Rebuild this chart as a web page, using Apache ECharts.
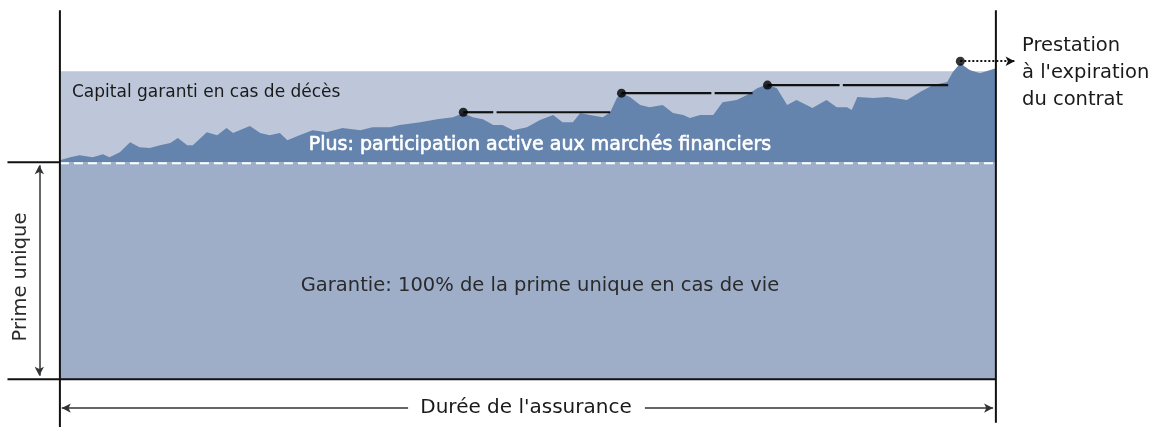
<!DOCTYPE html>
<html>
<head>
<meta charset="utf-8">
<script src="https://cdn.jsdelivr.net/npm/echarts@6/dist/echarts.min.js"></script>
<style>html,body{margin:0;padding:0;background:#fff}#c{width:1155px;height:427px}</style>
</head>
<body>
<div id="c"></div>
<script>
// ---- data (x: % of insurance duration, y: % of single premium) ----
const PRIME = 100;          // single premium level (guarantee)
const BAND_TOP = 141.9;     // guaranteed death capital level
const GROWTH_X = [0,1.1,2.1,3.5,4.6,5.3,6.4,7.5,8.5,9.6,10.7,11.8,12.6,13.6,14.2,15.7,16.8,17.8,18.5,19.2,20.3,21.4,22.4,23.5,24.3,25.6,27.0,28.5,30.2,32.1,33.4,34.2,35.3,36.3,38.5,40.3,42.0,43.1,44.1,45.2,46.3,47.3,48.4,49.9,51.3,52.7,53.7,54.8,55.6,56.6,58.0,58.8,59.5,60.0,60.9,62.0,63.0,64.4,65.5,66.6,67.3,68.4,69.8,70.8,72.3,73.4,74.5,75.6,76.6,77.7,78.7,80.4,81.9,83.0,84.1,84.6,85.2,86.9,88.4,90.5,91.9,93.3,94.8,95.4,96.2,97.2,98.3,100];
const GROWTH_Y = [100.9,102.3,103.2,102.3,103.7,102.3,104.6,109.2,106.9,106.5,107.8,108.8,111.1,107.8,107.8,113.8,112.4,115.7,113.4,114.7,116.6,113.4,112.4,113.4,110.1,112.4,114.7,113.8,115.7,114.7,116.1,116.1,116.1,117.1,118.4,119.8,120.7,122.6,120.7,119.8,117.1,117.1,114.7,116.1,119.4,121.7,118.4,118.4,122.6,121.7,120.7,123.0,129.5,131.8,130.0,126.3,125.3,126.3,122.6,121.7,120.3,121.7,121.7,127.6,128.6,130.9,134.1,135.9,134.1,126.3,128.6,124.9,128.6,125.3,125.3,124.0,130.0,129.5,130.0,128.6,132.3,135.5,136.9,141.5,145.6,142.4,141.0,143.3];
// lock-in points (ratchet)
const LOCK_X = [43.1, 60.0, 75.6, 96.2];
const LOCK_Y = [123.0, 131.8, 135.5, 146.5];
// ratchet segments: [xStart, xEnd, level]
const RATCHET = [[43.1,46.3,123.0],[46.65,58.8,123.0],[60.0,69.6,131.8],[69.95,74.0,131.8],[75.6,83.3,135.5],[83.65,94.9,135.5]];
// frame lines: [x1,y1,x2,y2]
const FRAME = [[0,-22,0,170],[100,-20,100,170],[-5.6,0,100,0],[-5.6,PRIME,0,PRIME]];
// duration axis (y level, left part, right part) and premium arrow (x, y range)
const DUR_Y = -13.3, DUR_LEFT = [0.2,37.2], DUR_RIGHT = [62.5,99.7];
const PREM_X = -2.2, PREM_RANGE = [1.6, 98.6];
const PAYOUT_END = 102.0;

const DARK = '#6483ad', LIGHT = '#bdc7d9', LOWER = '#9eaec8';
const FONT = 'DejaVu Sans';

const chart = echarts.init(document.getElementById('c'), null, {renderer:'canvas'});

const series = [];
series.push({
  type:'line', name:'growth', z:3, silent:true,
  data: GROWTH_X.map((x,i)=>[x, GROWTH_Y[i]]),
  symbol:'none', lineStyle:{width:0},
  areaStyle:{color:DARK, opacity:1, origin:PRIME},
  markArea:{silent:true, label:{show:false},
    data:[
      [{coord:[0,0], itemStyle:{color:LOWER}},{coord:[100,PRIME]}],
      [{coord:[0,PRIME], itemStyle:{color:LIGHT}},{coord:[100,BAND_TOP]}]
    ]}
});
series.push({
  type:'line', z:4, silent:true, symbol:'none',
  data:[[0,PRIME-0.5],[100,PRIME-0.5]],
  lineStyle:{color:'#ffffff', width:2, type:[9,5]}
});
FRAME.forEach(f=>series.push({
  type:'line', z:6, silent:true, symbol:'none',
  data:[[f[0],f[1]],[f[2],f[3]]],
  lineStyle:{color:'#111', width:2}
}));
RATCHET.forEach(r=>series.push({
  type:'line', z:5, silent:true, symbol:'none',
  data:[[r[0],r[2]],[r[1],r[2]]],
  lineStyle:{color:'#111', width:2.2}
}));
const arrowStyle = {color:'#333', width:1.5, type:'solid'};
series.push({
  type:'scatter', z:7, silent:true,
  data: LOCK_X.map((x,i)=>[x, LOCK_Y[i]]),
  symbolSize:9, itemStyle:{color:'#000'},
  markLine:{silent:true, label:{show:false}, symbolSize:[7,9],
    data:[
      [{coord:[LOCK_X[3],LOCK_Y[3]], symbol:'none', lineStyle:{color:'#111', width:2, type:[2,2]}},{coord:[PAYOUT_END,LOCK_Y[3]], symbol:'arrow'}],
      [{coord:[PREM_X,PREM_RANGE[1]], symbol:'arrow', lineStyle:arrowStyle},{coord:[PREM_X,PREM_RANGE[0]], symbol:'arrow'}],
      [{coord:[DUR_LEFT[1],DUR_Y], symbol:'none', lineStyle:arrowStyle},{coord:[DUR_LEFT[0],DUR_Y], symbol:'arrow'}],
      [{coord:[DUR_RIGHT[0],DUR_Y], symbol:'none', lineStyle:arrowStyle},{coord:[DUR_RIGHT[1],DUR_Y], symbol:'arrow'}]
    ]}
});

const txt = (text, x, y, size, color, align, extra, styleExtra) => Object.assign({
  type:'text', x, y, silent:true, z:100,
  style:Object.assign({text, fill:color, font:`${size}px "${FONT}"`, align, verticalAlign:'middle'}, styleExtra||{})
}, extra||{});

chart.setOption({
  animation:false,
  grid:{left:0, right:0, top:0, bottom:0},
  xAxis:{type:'value', min:-6.4, max:117, show:false},
  yAxis:{type:'value', min:-22, max:174.7, show:false},
  series,
  graphic:[
    txt('Capital garanti en cas de décès', 72, 93, 17, '#1a1a1a', 'left'),
    txt('Plus: participation active aux marchés financiers', 540, 145, 19, '#ffffff', 'center', null, {stroke:'#ffffff', lineWidth:0.6}),
    txt('Garantie: 100% de la prime unique en cas de vie', 540, 286, 19.5, '#2a2a2a', 'center'),
    txt('Prime unique', 21, 277, 19.5, '#2a2a2a', 'center', {rotation:Math.PI/2}),
    txt("Durée de l'assurance", 526, 408, 20, '#1a1a1a', 'center'),
    txt('Prestation', 1022, 46, 19.5, '#1a1a1a', 'left'),
    txt("à l'expiration", 1022, 73, 19.5, '#1a1a1a', 'left'),
    txt('du contrat', 1022, 100, 19.5, '#1a1a1a', 'left')
  ]
});
</script>
</body>
</html>
